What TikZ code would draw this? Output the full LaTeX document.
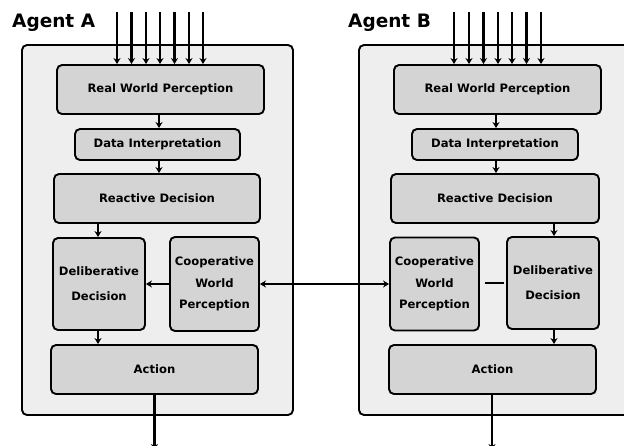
\documentclass[tikz,border=0pt]{standalone}
\usepackage{fontspec}
\setmainfont{DejaVu Sans}
\usetikzlibrary{arrows.meta}
\definecolor{outerfill}{HTML}{EEEEEE}
\definecolor{blkfill}{HTML}{D4D4D4}
\begin{document}
\begin{tikzpicture}[x=1pt,y=-1pt,
  outer/.style={draw=black,line width=1.9pt,fill=outerfill,rounded corners=5pt,inner sep=0pt},
  blk/.style={draw=black,line width=1.9pt,fill=blkfill,rounded corners=5pt,inner sep=0pt,
    font=\fontsize{11.6}{14}\bfseries,align=center},
  blkdd/.style={blk,font=\fontsize{11.6}{25}\bfseries},
  blkcw/.style={blk,font=\fontsize{11.6}{21.5}\bfseries},
  arr/.style={line width=2.3pt,-{Stealth[length=6pt,width=7pt]}},
  biarr/.style={line width=2.3pt,{Stealth[length=6pt,width=7pt]}-{Stealth[length=6pt,width=7pt]}},
  plain/.style={line width=2.3pt},
  ttl/.style={font=\fontsize{18.5}{20}\bfseries,anchor=base west,inner sep=0pt}]
\useasboundingbox (0,0) rectangle (624,445);
\clip (0,0) rectangle (624,445);

% outer agent boxes
\node[outer,minimum width=271pt,minimum height=370pt] (agA) at (157.5,230) {};
\node[outer,minimum width=281pt,minimum height=370pt] (agB) at (499.5,230) {};

% titles
\node[ttl] (tA) at (12,27) {Agent A};
\node[ttl] (tB) at (348,27) {Agent B};

% Agent A blocks
\node[blk,minimum width=207pt,minimum height=49pt] (rwpA) at (160.5,89.5) {Real World Perception};
\node[blk,minimum width=165pt,minimum height=31pt] (diA) at (157.5,144.5) {Data Interpretation};
\node[blk,minimum width=206pt,minimum height=49pt] (rdA) at (157,198.5) {Reactive Decision};
\node[blkdd,minimum width=92pt,minimum height=92pt] (ddA) at (99,284) {Deliberative\\Decision};
\node[blkcw,minimum width=89pt,minimum height=94pt] (cwpA) at (214.5,284) {Cooperative\\World\\Perception};
\node[blk,minimum width=207pt,minimum height=49pt] (actA) at (154.5,369.5) {Action};

% Agent B blocks
\node[blk,minimum width=207pt,minimum height=49pt] (rwpB) at (497.5,89.5) {Real World Perception};
\node[blk,minimum width=166pt,minimum height=31pt] (diB) at (495,144.5) {Data Interpretation};
\node[blk,minimum width=208pt,minimum height=49pt] (rdB) at (495,198.5) {Reactive Decision};
\node[blkcw,minimum width=89pt,minimum height=93pt] (cwpB) at (434.5,284) {Cooperative\\World\\Perception};
\node[blkdd,minimum width=92pt,minimum height=92pt] (ddB) at (553,283) {Deliberative\\Decision};
\node[blk,minimum width=207pt,minimum height=49pt] (actB) at (492.5,369.5) {Action};

% input arrows
\foreach \i/\x in {1/117,2/131.5,3/146,4/160,5/174.5,6/189,7/203} {
  \coordinate (inA\i) at (\x,12);
  \draw[arr] (inA\i) -- (inA\i |- rwpA.north);
}
\foreach \i/\x in {1/454,2/469,3/483.5,4/498,5/512,6/526.5,7/541} {
  \coordinate (inB\i) at (\x,12);
  \draw[arr] (inB\i) -- (inB\i |- rwpB.north);
}

% Agent A flow
\draw[arr] ([xshift=1.5pt]diA.north |- rwpA.south) -- ([xshift=1.5pt]diA.north);
\draw[arr] ([xshift=1.5pt]diA.south) -- ([xshift=1.5pt]diA.south |- rdA.north);
\draw[arr] ([xshift=-1pt]ddA.north |- rdA.south) -- ([xshift=-1pt]ddA.north);
\draw[arr] ([xshift=-1pt]ddA.south) -- ([xshift=-1pt]ddA.south |- actA.north);
\draw[arr] (cwpA.west) -- (ddA.east |- cwpA.west);
\coordinate (outA) at (154.5,450);
\draw[arr] (actA.south) -- (outA);

% Agent B flow
\draw[arr] ([xshift=1pt]diB.north |- rwpB.south) -- ([xshift=1pt]diB.north);
\draw[arr] ([xshift=1pt]diB.south) -- ([xshift=1pt]diB.south |- rdB.north);
\draw[arr] ([xshift=1pt]ddB.north |- rdB.south) -- ([xshift=1pt]ddB.north);
\draw[arr] ([xshift=1pt]ddB.south) -- ([xshift=1pt]ddB.south |- actB.north);
\draw[plain] ([xshift=-2pt]ddB.west) -- ([xshift=5pt]cwpB.east |- ddB.west);
\coordinate (outB) at (492,450);
\draw[arr] ([xshift=-0.5pt]actB.south) -- (outB);

% exchange between agents
\draw[biarr] (cwpA.east) -- (cwpB.west);
\end{tikzpicture}
\end{document}
